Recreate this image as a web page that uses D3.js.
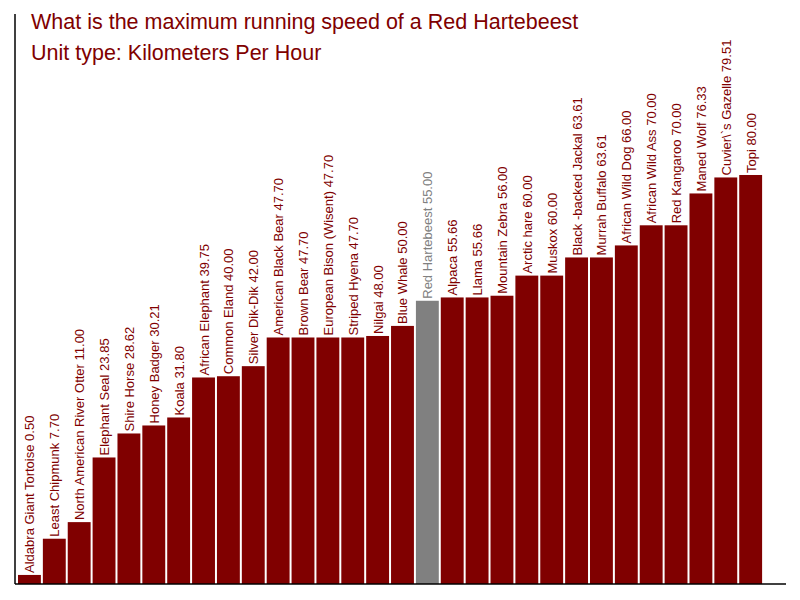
<!DOCTYPE html>
<html>
<head>
<meta charset="utf-8">
<script src="https://cdn.jsdelivr.net/npm/d3@7"></script>
<style>
  body { margin: 0; background: #fff; }
  text { font-family: "Liberation Sans", Arial, sans-serif; }
</style>
</head>
<body>
<div id="chart"></div>
<script>
// chart data
var animals = ["Aldabra Giant Tortoise", "Least Chipmunk", "North American River Otter", "Elephant Seal",
    "Shire Horse", "Honey Badger", "Koala", "African Elephant", "Common Eland", "Silver Dik-Dik",
    "American Black Bear", "Brown Bear", "European Bison (Wisent)", "Striped Hyena", "Nilgai",
    "Blue Whale", "Red Hartebeest", "Alpaca", "Llama", "Mountain Zebra", "Arctic hare", "Muskox",
    "Black -backed Jackal", "Murrah Buffalo", "African Wild Dog", "African Wild Ass", "Red Kangaroo",
    "Maned Wolf", "Cuvier\\`s Gazelle", "Topi"];
var speeds = [0.5, 7.7, 11.0, 23.85, 28.62, 30.21, 31.8, 39.75, 40.0, 42.0,
    47.7, 47.7, 47.7, 47.7, 48.0, 50.0, 55.0, 55.66, 55.66, 56.0, 60.0, 60.0,
    63.61, 63.61, 66.0, 70.0, 70.0, 76.33, 79.51, 80.0];
var highlight = "Red Hartebeest";
var titleLines = ["What is the maximum running speed of a Red Hartebeest", "Unit type: Kilometers Per Hour"];

var width = 800, height = 600;
var margin = { top: 14, right: 14, bottom: 16, left: 15 };

var svg = d3.select("#chart").append("svg")
    .attr("width", width)
    .attr("height", height);

var x = d3.scaleBand()
    .domain(animals)
    .range([margin.left + 2, margin.left + 2 + 30 * 24.87])
    .paddingInner(0.08)
    .paddingOuter(0.04);

var y = d3.scaleLinear()
    .domain([-1.3, 80 * 1.4])
    .range([height - margin.bottom, margin.top]);

var maroon = "#800000", grey = "#808080";

// bars
svg.append("g")
    .selectAll("rect")
    .data(speeds)
    .enter().append("rect")
    .attr("x", function(d, i) { return x(animals[i]); })
    .attr("y", function(d) { return y(d); })
    .attr("width", x.bandwidth())
    .attr("height", function(d) { return y(-1.3) - y(d); })
    .attr("fill", function(d, i) { return animals[i] == highlight ? grey : maroon; });

// labels
svg.append("g")
    .selectAll("text")
    .data(speeds)
    .enter().append("text")
    .attr("transform", function(d, i) {
        return "translate(" + (x(animals[i]) + x.bandwidth() / 2 + 5) + "," + (y(d) - 2) + ") rotate(-90)";
    })
    .attr("font-size", "13px")
    .attr("fill", function(d, i) { return animals[i] == highlight ? grey : maroon; })
    .text(function(d, i) { return animals[i] + " " + d.toFixed(2); });

// axes lines
svg.append("line")
    .attr("x1", margin.left).attr("x2", margin.left)
    .attr("y1", margin.top).attr("y2", height - margin.bottom)
    .attr("stroke", "black").attr("stroke-width", 1.5);

svg.append("line")
    .attr("x1", margin.left).attr("x2", width - margin.right)
    .attr("y1", height - margin.bottom).attr("y2", height - margin.bottom)
    .attr("stroke", "black").attr("stroke-width", 1.5);

// title
svg.selectAll(".title")
    .data(titleLines)
    .enter().append("text")
    .attr("class", "title")
    .attr("x", 31)
    .attr("y", function(d, i) { return 29 + i * 31; })
    .attr("font-size", "21.5px")
    .attr("fill", maroon)
    .text(function(d) { return d; });
</script>
</body>
</html>
